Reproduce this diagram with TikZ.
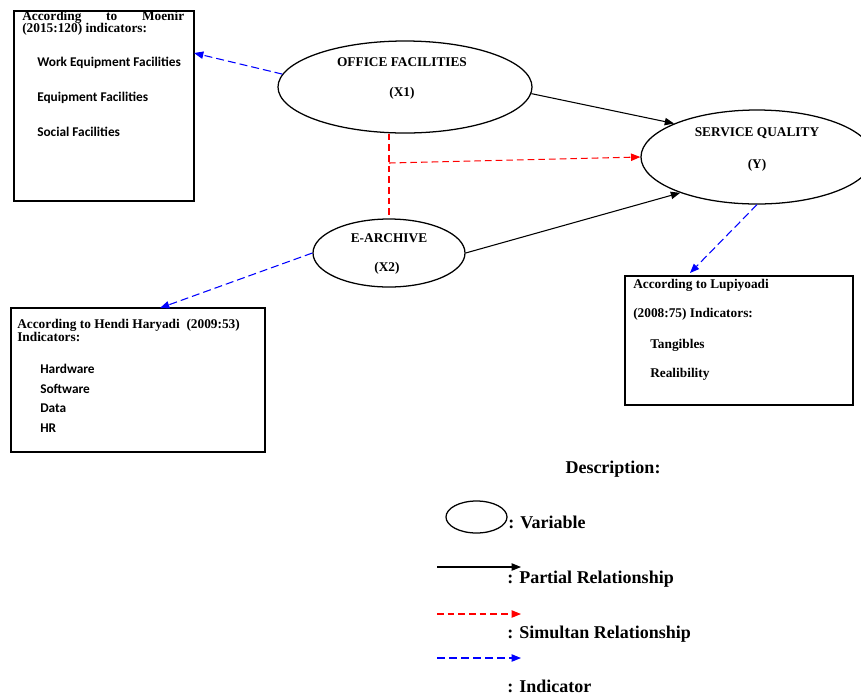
\documentclass[tikz,border=0pt]{standalone}
\usepackage{fontspec}
\setmainfont{Liberation Serif}
\newfontfamily\calib{Carlito}
\usepackage{tikz}
\usetikzlibrary{arrows.meta,shapes.geometric}
\definecolor{Simul}{RGB}{255,0,0}
\definecolor{Indic}{RGB}{0,0,255}
\tikzset{
  var/.style={ellipse,draw,line width=0.95pt,inner sep=0pt},
  srcbox/.style={draw,line width=1.4pt,anchor=north west,inner sep=0pt},
  vtext/.style={font=\bfseries\fontsize{10}{12}\selectfont,anchor=base,inner sep=0pt},
  head/.style={font=\bfseries\fontsize{10}{12}\selectfont,anchor=base west,inner sep=0pt},
  item/.style={font=\calib\bfseries\fontsize{10}{12}\selectfont,anchor=base west,inner sep=0pt},
  key/.style={font=\bfseries\fontsize{13.5}{16}\selectfont,anchor=base west,inner sep=0pt},
  tip/.style={-{Triangle[length=7pt,width=5.5pt]}},
  partial/.style={tip,line width=0.8pt},
  simul/.style={Simul,line width=0.8pt,dash pattern=on 5pt off 3pt},
  indic/.style={tip,Indic,line width=0.8pt,dash pattern=on 6pt off 3pt},
}
\newcommand{\KeyArrow}[3]{% name style y
\coordinate (#1a) at (437,#3);
\coordinate (#1b) at (521,#3);
\draw[#2] (#1a) -- (#1b);
}

\begin{document}
\begin{tikzpicture}[x=0.75pt,y=-0.75pt]
\useasboundingbox (0,0) rectangle (861,694);
% variables
\node[var,minimum width=190.5pt,minimum height=69pt] (x1) at (405,87) {};
\node[vtext] (x1a) at (402,66) {OFFICE FACILITIES};
\node[vtext] (x1b) at (402,96) {(X1)};
\node[var,minimum width=174pt,minimum height=70.5pt] (y) at (757,157) {};
\node[vtext] (ya) at (757,136) {SERVICE QUALITY};
\node[vtext] (yb) at (757,168) {(Y)};
\node[var,minimum width=114pt,minimum height=51pt] (x2) at (389,253) {};
\node[vtext] (x2a) at (389,242) {E-ARCHIVE};
\node[vtext] (x2b) at (387,271) {(X2)};
% indicator boxes
\node[srcbox,minimum width=135pt,minimum height=142.5pt] (moenir) at (13,10) {};
\node[head] (m1) at (22,20) {\makebox[121.5pt][s]{According\hfill to\hfill Moenir}};
\node[head] (m2) at (22,32) {(2015:120) indicators:};
\node[item] (m3) at (37,66) {Work Equipment Facilities};
\node[item] (m4) at (37,101) {Equipment Facilities};
\node[item] (m5) at (37,136) {Social Facilities};
\node[srcbox,minimum width=190.5pt,minimum height=108pt] (haryadi) at (10,307) {};
\node[head] (h1) at (17,328) {According to Hendi Haryadi\ \ (2009:53)};
\node[head] (h2) at (17,341) {Indicators:};
\node[item] (h3) at (40,373) {Hardware};
\node[item] (h4) at (40,393) {Software};
\node[item] (h5) at (40,412) {Data};
\node[item] (h6) at (40,432) {HR};
\node[srcbox,minimum width=171pt,minimum height=96.75pt] (lupi) at (624,275) {};
\node[head] (l1) at (633,288) {According to Lupiyoadi};
\node[head] (l2) at (633,317) {(2008:75) Indicators:};
\node[head] (l3) at (650,348) {Tangibles};
\node[head] (l4) at (650,377) {Realibility};
% connectors
\coordinate (moenirin) at (194,53);
\coordinate (haryadiin) at (160,308);
\coordinate (lupiin) at (690,273);
\coordinate (split) at (389,163);
\draw[indic] (x1.174) -- (moenirin);
\draw[indic] (x2.west) -- (haryadiin);
\draw[indic] (y.south) -- (lupiin);
\draw[partial] (x1.-3) -- (y.158);
\draw[partial] (x2.east) -- (y.205);
\draw[simul] (x2.north |- x1.south) -- (x2.north);
\draw[simul,tip] (split) -- (y.west);
% description
\node[key,anchor=base] (desc) at (613,473) {Description:};
\node[var,minimum width=45.75pt,minimum height=24pt] (keyvar) at (476.5,517) {};
\node[key] (kv) at (508,528) {: Variable};
\KeyArrow{kp}{partial}{567}
\node[key] (kpt) at (507,583) {: Partial Relationship};
\KeyArrow{ks}{simul,tip}{614}
\node[key] (kst) at (507,638) {: Simultan Relationship};
\KeyArrow{ki}{indic}{658}
\node[key] (kit) at (507,692) {: Indicator};
\end{tikzpicture}
\end{document}
